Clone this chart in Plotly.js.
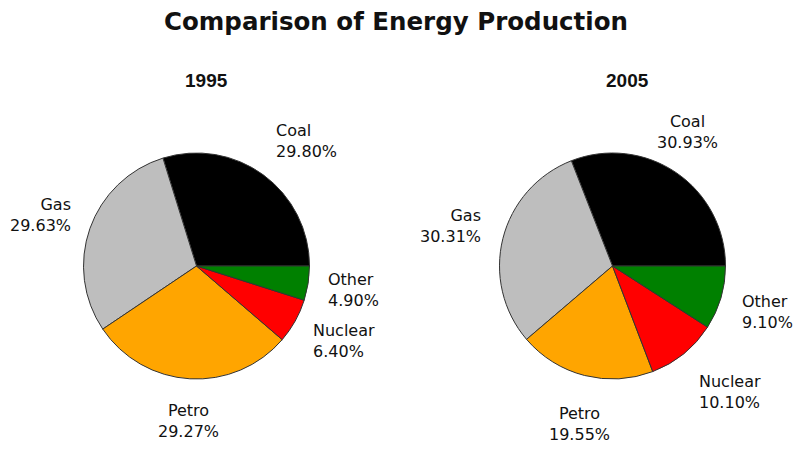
<!DOCTYPE html>
<html>
<head>
<meta charset="utf-8">
<script src="https://cdn.plot.ly/plotly-3.0.1.min.js"></script>
<style>
  html, body { margin: 0; padding: 0; background: #ffffff; }
  #chart { width: 800px; height: 465px; }
</style>
</head>
<body>
<div id="chart"></div>
<script>
// Energy sources and their shares of production (percent)
const sources = ['Coal', 'Gas', 'Petro', 'Nuclear', 'Other'];
const share1995 = [29.80, 29.63, 29.27, 6.40, 4.90];
const share2005 = [30.93, 30.31, 19.55, 10.10, 9.10];
const years = ['1995', '2005'];
const sliceColors = ['#000000', '#bebebe', '#ffa500', '#ff0000', '#008000'];

const W = 800, H = 465;

// Pixel geometry of each pie: centre, radius and how far out the labels sit
const pies = [
  { values: share1995, year: years[0], cx: 196.5, cy: 266, r: 113, kx: 1.16, ky: 1.37, titleX: 206 },
  { values: share2005, year: years[1], cx: 612.5, cy: 266, r: 113, kx: 1.18, ky: 1.44, titleX: 627 }
];

const traces = [];
const annotations = [];

pies.forEach(p => {
  const total = p.values.reduce((a, b) => a + b, 0);
  // Plotly places the first counterclockwise slice on the clockwise side of
  // the start line, so shift by its angle to make it begin at 3 o'clock.
  const firstAngle = 360 * p.values[0] / total;

  traces.push({
    type: 'pie',
    labels: sources,
    values: p.values,
    sort: false,
    direction: 'counterclockwise',
    rotation: 90 - firstAngle,
    textinfo: 'none',
    hoverinfo: 'label+value',
    marker: { colors: sliceColors, line: { color: '#333333', width: 1 } },
    domain: {
      x: [(p.cx - p.r) / W, (p.cx + p.r) / W],
      y: [1 - (p.cy + p.r) / H, 1 - (p.cy - p.r) / H]
    },
    showlegend: false
  });

  // Year heading above each pie
  annotations.push({
    text: '<b>' + p.year + '</b>',
    xref: 'paper', yref: 'paper',
    x: p.titleX / W, y: 1 - 80 / H,
    xanchor: 'center', yanchor: 'middle',
    showarrow: false,
    font: { family: 'Liberation Sans, Arial, sans-serif', size: 19, color: '#111111' }
  });

  // Slice labels placed around the pie at each slice's mid-angle
  let cum = 0;
  p.values.forEach((v, i) => {
    const mid = (cum + v / 2) / total * 2 * Math.PI;
    cum += v;
    const c = Math.cos(mid), s = Math.sin(mid);
    const px = p.cx + p.kx * p.r * c;
    const py = p.cy - p.ky * p.r * s;
    let anchor = 'center';
    if (c > 0.58) anchor = 'left';
    else if (c < -0.58) anchor = 'right';
    annotations.push({
      text: sources[i] + '<br>' + v.toFixed(2) + '%',
      xref: 'paper', yref: 'paper',
      x: px / W, y: 1 - py / H,
      xanchor: anchor, yanchor: 'middle', align: anchor,
      showarrow: false,
      font: { family: 'DejaVu Sans, Verdana, sans-serif', size: 16, color: '#111111' }
    });
  });
});

const layout = {
  width: W, height: H,
  margin: { l: 0, r: 0, t: 0, b: 0 },
  paper_bgcolor: '#ffffff',
  plot_bgcolor: '#ffffff',
  title: {
    text: '<b>Comparison of Energy Production</b>',
    x: 396 / W, xanchor: 'center',
    y: 1 - 21 / H, yanchor: 'middle',
    font: { family: 'DejaVu Sans, Verdana, sans-serif', size: 24.5, color: '#111111' }
  },
  annotations: annotations
};

Plotly.newPlot('chart', traces, layout, { displayModeBar: false, staticPlot: true });
</script>
</body>
</html>
